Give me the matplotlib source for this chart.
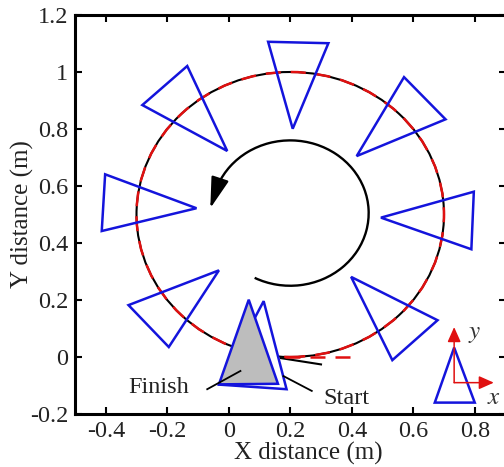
import matplotlib
matplotlib.use('Agg')
import matplotlib.pyplot as plt
import matplotlib.patches as mpatches
import numpy as np

# reference / measured circular path
CIRCLE_CENTER = (0.2, 0.5)
CIRCLE_R = 0.5
REF_TAIL_X = [0.10, 0.40]
REF_TAIL_Y = [0.0, 0.0]
TRAJ_TAIL_X = [0.17, 0.30]
TRAJ_TAIL_Y = [-0.004, -0.026]

# direction arrow (arc)
ARC_CENTER = (0.2, 0.505)
ARC_R = 0.255
ARC_THETA = (-117, 157)
ARROW_TIP = (-0.060, 0.522)

# robot poses along the path, as triangle vertices (x, y)
TRIANGLES = [
    [(0.128, 1.106), (0.324, 1.101), (0.208, 0.801)],
    [(-0.281, 0.884), (-0.135, 1.021), (-0.005, 0.723)],
    [(0.570, 0.982), (0.705, 0.834), (0.416, 0.705)],
    [(-0.402, 0.641), (-0.413, 0.442), (-0.105, 0.522)],
    [(0.797, 0.580), (0.789, 0.378), (0.495, 0.489)],
    [(-0.326, 0.182), (-0.195, 0.035), (-0.032, 0.304)],
    [(0.398, 0.281), (0.679, 0.129), (0.532, -0.011)],
]
START_TRI = [(0.1135, 0.196), (0.188, -0.113), (-0.030, -0.097)]
FINISH_TRI = [(0.065, 0.201), (0.160, -0.094), (-0.032, -0.096)]

# body frame legend
FRAME_TRI = [(0.733, 0.033), (0.670, -0.160), (0.800, -0.160)]
FRAME_ORIGIN = (0.733, -0.090)
FRAME_Y_END = (0.733, 0.105)
FRAME_X_END = (0.862, -0.090)

XTICKS = [-0.4, -0.2, 0, 0.2, 0.4, 0.6, 0.8]
YTICKS = [-0.2, 0, 0.2, 0.4, 0.6, 0.8, 1, 1.2]

BLUE = '#1414DC'
RED = '#E01010'
TXT = '#222222'

plt.rcParams['font.family'] = ['Liberation Serif', 'DejaVu Serif']
plt.rcParams['mathtext.fontset'] = 'stix'

fig = plt.figure(figsize=(5.04, 4.67), dpi=100)
ax = fig.add_axes([75 / 504, 1 - 414 / 467, 430.5 / 504, 399 / 467])

# trajectory (black) and reference (red dashed)
ax.add_patch(mpatches.Circle(CIRCLE_CENTER, CIRCLE_R, fill=False, color='black', lw=1.5, zorder=2))
ax.plot(TRAJ_TAIL_X, TRAJ_TAIL_Y, color='black', lw=1.5, zorder=2)
ax.add_patch(mpatches.Circle(CIRCLE_CENTER, CIRCLE_R, fill=False, color=RED, lw=1.8,
                             linestyle=(0, (6, 4)), zorder=3))
ax.plot(REF_TAIL_X, REF_TAIL_Y, color=RED, lw=1.8, linestyle=(0, (6, 4)), zorder=3)

# direction arrow
ax.add_patch(mpatches.Arc(ARC_CENTER, 2 * ARC_R, 2 * ARC_R, theta1=ARC_THETA[0], theta2=ARC_THETA[1],
                          color='black', lw=1.7, zorder=2))
a_end = np.deg2rad(ARC_THETA[1])
ax.annotate('', xy=ARROW_TIP,
            xytext=(ARC_CENTER[0] + ARC_R * np.cos(a_end), ARC_CENTER[1] + ARC_R * np.sin(a_end)),
            arrowprops=dict(arrowstyle='-|>,head_length=1.9,head_width=0.55', color='black',
                            lw=1.7, shrinkA=0, shrinkB=0), zorder=2)

for tri in TRIANGLES:
    ax.add_patch(mpatches.Polygon(tri, closed=True, fill=False, edgecolor=BLUE, lw=1.8, zorder=4))

ax.add_patch(mpatches.Polygon(START_TRI, closed=True, facecolor='white', edgecolor=BLUE, lw=1.8, zorder=5))
ax.add_patch(mpatches.Polygon(FINISH_TRI, closed=True, facecolor='#BDBDBD', edgecolor=BLUE, lw=1.8, zorder=6))

# labels with leader lines
ax.plot([-0.070, 0.038], [-0.113, -0.049], color='black', lw=1.3, zorder=7)
ax.text(-0.227, -0.106, 'Finish', fontsize=17.5, ha='center', va='center', color=TXT, zorder=7)
ax.plot([0.270, 0.178], [-0.119, -0.067], color='black', lw=1.3, zorder=7)
ax.text(0.384, -0.146, 'Start', fontsize=17.5, ha='center', va='center', color=TXT, zorder=7)

# body frame
ax.add_patch(mpatches.Polygon(FRAME_TRI, closed=True, fill=False, edgecolor=BLUE, lw=1.8, zorder=4))
ax.annotate('', xy=FRAME_Y_END, xytext=FRAME_ORIGIN,
            arrowprops=dict(arrowstyle='-|>,head_length=0.9,head_width=0.4', color=RED, lw=1.1,
                            shrinkA=0, shrinkB=0), zorder=5)
ax.annotate('', xy=FRAME_X_END, xytext=FRAME_ORIGIN,
            arrowprops=dict(arrowstyle='-|>,head_length=0.9,head_width=0.4', color=RED, lw=1.1,
                            shrinkA=0, shrinkB=0), zorder=5)
ax.text(0.800, 0.080, '$y$', fontsize=18, ha='center', va='center', color='#333333')
ax.text(0.862, -0.143, '$x$', fontsize=18, ha='center', va='center', color='#333333')

ax.set_xlim(-0.5, 0.9)
ax.set_ylim(-0.2, 1.2)
ax.set_xticks(XTICKS)
ax.set_xticklabels(['-0.4', '-0.2', '0', '0.2', '0.4', '0.6', '0.8'])
ax.set_yticks(YTICKS)
ax.set_yticklabels(['-0.2', '0', '0.2', '0.4', '0.6', '0.8', '1', '1.2'])
ax.tick_params(direction='in', length=5, width=1.5, top=True, right=True, labelsize=17.5,
               colors='black', labelcolor=TXT, pad=5)
for s in ax.spines.values():
    s.set_linewidth(2.2)

ax.set_xlabel('X distance (m)', fontsize=18, labelpad=0, color=TXT, x=0.541)
ax.set_ylabel('Y distance (m)', fontsize=18, labelpad=-3, color=TXT)

fig.savefig('out.png', dpi=100)
